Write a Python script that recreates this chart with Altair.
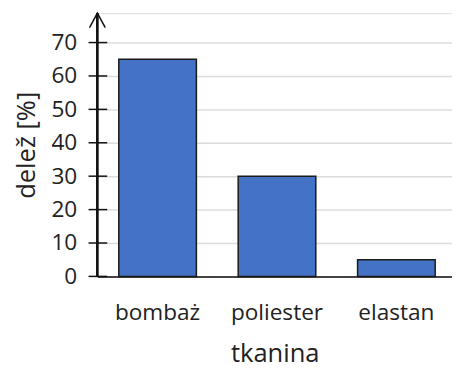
import altair as alt
import pandas as pd

categories = ["bombaż", "poliester", "elastan"]
values = [65, 30, 5]
tick_values = [0, 10, 20, 30, 40, 50, 60, 70]

FONT = "Open Sans"
W, H = 361, 268
YMAX = 78.8

df = pd.DataFrame({"tkanina": categories, "delez": values})
ticks_df = pd.DataFrame({"t": tick_values})

yscale = alt.Scale(domain=[0, YMAX], nice=False, zero=True)
xscale = alt.Scale(paddingInner=0.35, paddingOuter=0.16, align=0.56)

yaxis = alt.Axis(title="delež [%]", values=tick_values, ticks=False,
                 domain=False, labelFontSize=23, labelPadding=21,
                 labelOverlap=False,
                 labelColor="#222", titleFontSize=26, titlePadding=12,
                 titleColor="#222", titleFontWeight="normal",
                 gridColor="#dcdcdc", gridWidth=1.5,
                 labelFont=FONT, titleFont=FONT)

bars = alt.Chart(df).mark_bar(
    color="#4472C4", stroke="#1a1a1a", strokeWidth=1.5
).encode(
    x=alt.X("tkanina:N", sort=categories, scale=xscale,
            axis=alt.Axis(title="tkanina", labelAngle=0, ticks=False,
                          labelFontSize=23, labelPadding=26, labelColor="#222",
                          titleFontSize=26, titlePadding=17, titleColor="#222",
                          titleFontWeight="normal",
                          domainColor="#111", domainWidth=1.5,
                          labelFont=FONT, titleFont=FONT)),
    y=alt.Y("delez:Q", scale=yscale, axis=yaxis),
)

tick_marks = alt.Chart(ticks_df).mark_rule(color="#111", strokeWidth=1.5).encode(
    y=alt.Y("t:Q", scale=yscale, axis=yaxis),
    x=alt.value(-9),
    x2=alt.value(10),
)

axis_line = alt.Chart(ticks_df).mark_rule(color="#111", strokeWidth=1.5).encode(
    x=alt.value(0),
    y=alt.value(0),
    y2=alt.value(H),
)

arrow = alt.Chart(pd.DataFrame({"a": [YMAX]})).mark_point(
    shape="M-1,1.85L0,0L1,1.85", filled=False, stroke="#111",
    strokeWidth=1.5, size=256, opacity=1
).encode(
    x=alt.value(0),
    y=alt.Y("a:Q", scale=yscale, axis=yaxis),
)

chart = alt.layer(bars, tick_marks, axis_line, arrow).properties(
    width=W, height=H,
    autosize=alt.AutoSizeParams(type="none"),
    padding={"left": 91, "top": 2, "right": 0, "bottom": 90},
).configure_view(stroke=None).configure(background="white")

chart.save("out.html", embed_options={"renderer": "svg", "actions": False})
